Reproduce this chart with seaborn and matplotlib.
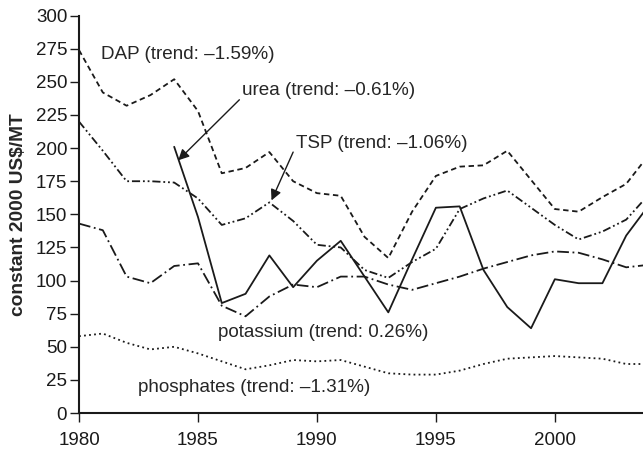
import numpy as np
import pandas as pd
import matplotlib
matplotlib.use('Agg')
import matplotlib.pyplot as plt
import seaborn as sns

# Preços em US$ constantes de 2000 por tonelada
anos = list(range(1980, 2005))
dap = [274, 242, 232, 240, 252, 228, 181, 185, 197, 175, 166, 164, 133,
       117, 152, 179, 186, 187, 198, 176, 154, 152, 163, 173, 196]
ureia = [np.nan, np.nan, np.nan, np.nan, 201, 148, 83, 90, 119, 95, 115, 130,
         103, 76, 116, 155, 156, 108, 80, 64, 101, 98, 98, 134, 158]
tsp = [220, 198, 175, 175, 174, 162, 142, 147, 159, 145, 127, 125, 108,
       102, 114, 124, 154, 162, 168, 155, 142, 131, 137, 146, 166]
potassio = [143, 138, 103, 98, 111, 113, 81, 73, 88, 97, 95, 103, 103,
            97, 93, 98, 103, 109, 114, 119, 122, 121, 116, 110, 112]
fosfatos = [58, 60, 53, 48, 50, 45, 39, 33, 36, 40, 39, 40, 35,
            30, 29, 29, 32, 37, 41, 42, 43, 42, 41, 37, 37]

series = {'DAP': dap, 'urea': ureia, 'TSP': tsp,
          'potassium': potassio, 'phosphates': fosfatos}

# Tabela longa para o seaborn
dados = pd.concat([pd.DataFrame({'ano': anos, 'preco': v, 'serie': k})
                   for k, v in series.items()], ignore_index=True)

sns.set_style('ticks')
plt.rcParams['font.family'] = ['Liberation Sans', 'DejaVu Sans']

fig = plt.figure(figsize=(6.43, 4.5), dpi=100)
ax = fig.add_axes([0.1229, 0.0822, 0.888, 0.883])

tracos = {'DAP': (3, 2), 'urea': '', 'TSP': (4.5, 1.6, 1, 1.6, 1, 1.6),
          'potassium': (6.5, 2, 1, 2), 'phosphates': (1, 1.8)}
sns.lineplot(data=dados, x='ano', y='preco', style='serie', dashes=tracos,
             color='#1a1a1a', linewidth=1.3, legend=False, ax=ax)

ax.set_xlim(1980, 2004)
ax.set_ylim(0, 300)
ax.set_xticks(range(1980, 2001, 5))
ax.set_yticks(range(0, 301, 25))
ax.set_xlabel('')
ax.set_ylabel('constant 2000 US$/MT', fontsize=13.8, fontweight='bold', labelpad=6)
ax.tick_params(axis='both', labelsize=13.5, direction='out', length=6.5,
               width=1, color='#1a1a1a', labelcolor='#1a1a1a')
ax.tick_params(axis='x', pad=7)
ax.tick_params(axis='y', pad=2)
for lado in ['top', 'right']:
    ax.spines[lado].set_visible(False)
for lado in ['left', 'bottom']:
    ax.spines[lado].set_linewidth(1.5)
    ax.spines[lado].set_color('#1a1a1a')

# Rótulos das séries
fs = 13.6
ax.text(1980.92, 270.5, 'DAP (trend: \u20131.59%)', fontsize=fs, va='center')
ax.text(1986.84, 243.4, 'urea (trend: \u20130.61%)', fontsize=fs, va='center')
ax.text(1989.12, 203.2, 'TSP (trend: \u20131.06%)', fontsize=fs, va='center')
ax.text(1985.85, 60.7, 'potassium (trend: 0.26%)', fontsize=fs, va='center')
ax.text(1982.49, 19.4, 'phosphates (trend: \u20131.31%)', fontsize=fs, va='center')

seta = dict(arrowstyle='-|>', color='#1a1a1a', lw=1, mutation_scale=16,
            shrinkA=0, shrinkB=0)
ax.annotate('', xy=(1984.17, 190.8), xytext=(1986.74, 236.5), arrowprops=seta)
ax.annotate('', xy=(1988.09, 160.5), xytext=(1989.0, 197), arrowprops=seta)

fig.savefig('out.png', dpi=100)
